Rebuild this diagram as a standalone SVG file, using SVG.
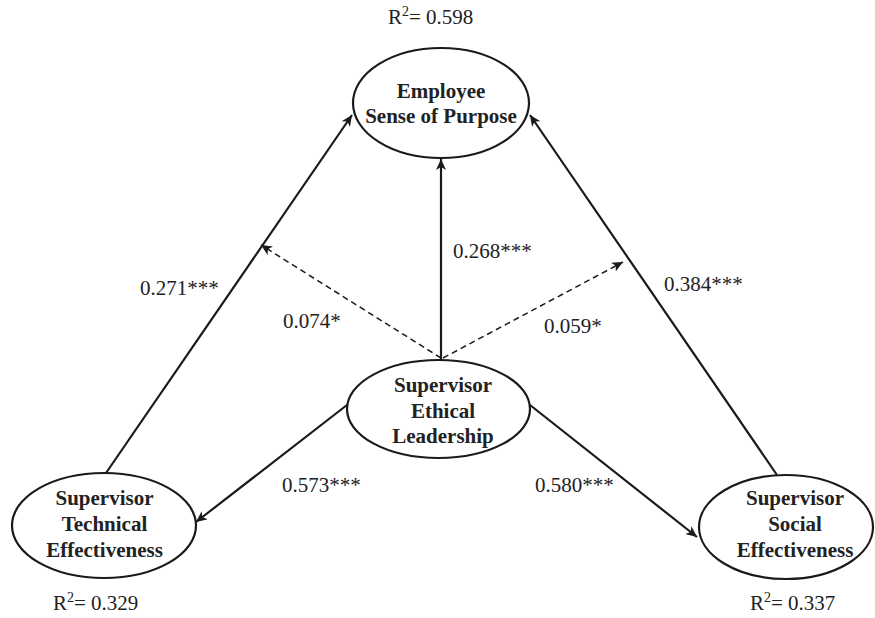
<svg xmlns="http://www.w3.org/2000/svg" width="875" height="618" viewBox="0 0 875 618">
<style>
.node{fill:#fff;stroke:#1a1a1a;stroke-width:2.2}
.lbl{font-family:"Liberation Serif","Times New Roman",serif;font-size:21px;fill:#222}
.nt{font-family:"Liberation Serif","Times New Roman",serif;font-size:21px;font-weight:bold;fill:#222;text-anchor:middle}
.sol{stroke:#1a1a1a;stroke-width:2.2;fill:none;marker-end:url(#ah)}
.dsh{stroke:#1a1a1a;stroke-width:1.5;fill:none;stroke-dasharray:6 4;marker-end:url(#ah)}
</style>
<defs>
<marker id="ah" markerUnits="userSpaceOnUse" markerWidth="12" markerHeight="10" refX="11" refY="5" orient="auto">
<path d="M0,0 L11,5 L0,10 L3,5 Z" fill="#1a1a1a"/>
</marker>
</defs>
<rect width="875" height="618" fill="#fff"/>
<g id="connectors">
<line class="sol" x1="441" y1="360" x2="441" y2="159"/>
<line class="sol" x1="106" y1="473" x2="352" y2="115"/>
<line class="sol" x1="777" y1="475" x2="530" y2="115"/>
<line class="dsh" x1="441" y1="358" x2="261" y2="245"/>
<line class="dsh" x1="443" y1="358" x2="623" y2="262"/>
<line class="sol" x1="347" y1="405" x2="196" y2="522"/>
<line class="sol" x1="530" y1="405" x2="697" y2="537"/>
</g>
<g id="labels">
<text class="lbl" x="140" y="295">0.271***</text>
<text class="lbl" x="283" y="328">0.074*</text>
<text class="lbl" x="453" y="258">0.268***</text>
<text class="lbl" x="544" y="333">0.059*</text>
<text class="lbl" x="664" y="291">0.384***</text>
<text class="lbl" x="282" y="492">0.573***</text>
<text class="lbl" x="535" y="492">0.580***</text>
</g>
<g id="purpose">
<ellipse class="node" cx="441" cy="103" rx="88" ry="55"/>
<text class="nt" x="441" y="98">Employee</text>
<text class="nt" x="441" y="123">Sense of Purpose</text>
<text class="lbl" x="388" y="24">R<tspan font-size="14" dy="-8">2</tspan><tspan dy="8">= 0.598</tspan></text>
</g>
<g id="ethical">
<ellipse class="node" cx="438.5" cy="409" rx="91.5" ry="49"/>
<text class="nt" x="443" y="392">Supervisor</text>
<text class="nt" x="443" y="418">Ethical</text>
<text class="nt" x="443" y="443">Leadership</text>
</g>
<g id="technical">
<ellipse class="node" cx="104" cy="525.5" rx="92" ry="52.5"/>
<text class="nt" x="104.5" y="505">Supervisor</text>
<text class="nt" x="104.5" y="531">Technical</text>
<text class="nt" x="104.5" y="557">Effectiveness</text>
<text class="lbl" x="53" y="610">R<tspan font-size="14" dy="-8">2</tspan><tspan dy="8">= 0.329</tspan></text>
</g>
<g id="social">
<ellipse class="node" cx="786" cy="527" rx="87" ry="52"/>
<text class="nt" x="795" y="505">Supervisor</text>
<text class="nt" x="795" y="531">Social</text>
<text class="nt" x="795" y="557">Effectiveness</text>
<text class="lbl" x="750" y="610">R<tspan font-size="14" dy="-8">2</tspan><tspan dy="8">= 0.337</tspan></text>
</g>
</svg>
